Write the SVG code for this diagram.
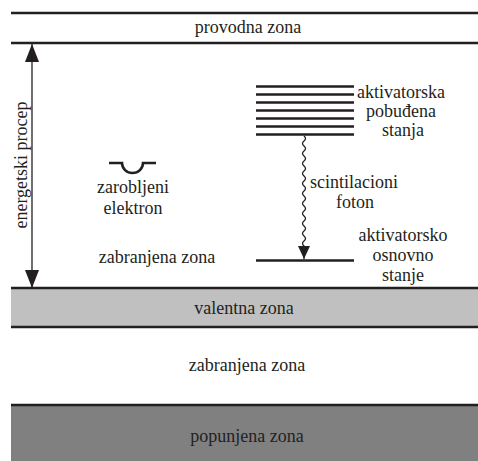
<svg xmlns="http://www.w3.org/2000/svg" width="478" height="461" viewBox="0 0 478 461">
<style>
text{font-family:'Liberation Serif','Times New Roman',serif;font-size:18px;fill:#231f20;text-anchor:middle}
.band{stroke:#231f20;stroke-width:2.5;fill:none}
.lvl{stroke:#231f20;stroke-width:2.6;fill:none}
.thin{stroke:#231f20;stroke-width:1.3;fill:none}
</style>
<defs>
<marker id="ah" markerUnits="userSpaceOnUse" markerWidth="18" markerHeight="14" refX="18" refY="7" orient="auto-start-reverse" viewBox="0 0 18 14">
<path d="M0,0 L18,7 L0,14 z" fill="#231f20"/>
</marker>
<marker id="ah2" markerUnits="userSpaceOnUse" markerWidth="13" markerHeight="12" refX="13" refY="6" orient="auto" viewBox="0 0 13 12">
<path d="M0,0 L13,6 L0,12 z" fill="#231f20"/>
</marker>
</defs>
<rect width="478" height="461" fill="#fff"/>
<g id="provodna">
<line class="band" x1="11" y1="13" x2="478" y2="13"/>
<line class="band" x1="11" y1="43" x2="478" y2="43"/>
<text x="248" y="33">provodna zona</text>
</g>
<g id="valentna">
<rect x="11" y="288" width="467" height="39" fill="#c0c0c0"/>
<line class="band" x1="11" y1="288" x2="478" y2="288"/>
<line class="band" x1="11" y1="327" x2="478" y2="327"/>
<text x="244" y="314">valentna zona</text>
</g>
<g id="zabranjena2">
<text x="247" y="371">zabranjena zona</text>
</g>
<g id="popunjena">
<rect x="11" y="405" width="467" height="56" fill="#808080"/>
<line class="band" x1="11" y1="405" x2="478" y2="405"/>
<text x="247" y="442">popunjena zona</text>
</g>
<g id="zabranjena1">
<text x="157" y="263">zabranjena zona</text>
</g>
<g id="zarobljeni">
<path class="lvl" d="M109,163 H122 A10.5,10 0 0 0 143,163 H156"/>
<text x="133" y="193">zarobljeni</text>
<text x="133" y="214">elektron</text>
</g>
<g id="pobudjena">
<path class="lvl" d="M256,86.5H354M256,94.5H354M256,102.5H354M256,110.5H354M256,118.5H354M256,126.5H354M256,134.5H354"/>
<text x="401" y="98">aktivatorska</text>
<text x="401" y="117">pobuđena</text>
<text x="403" y="136">stanja</text>
</g>
<g id="osnovno">
<line class="lvl" x1="256" y1="260.5" x2="354" y2="260.5"/>
<text x="403" y="241">aktivatorsko</text>
<text x="403" y="261">osnovno</text>
<text x="403" y="281">stanje</text>
</g>
<g id="foton-label">
<text x="354" y="188">scintilacioni</text>
<text x="355" y="208">foton</text>
</g>
<g id="energetski-label">
<text transform="translate(27,165) rotate(-90)">energetski procep</text>
</g>
<g id="connectors">
<line class="thin" x1="32" y1="44" x2="32" y2="288" marker-start="url(#ah)" marker-end="url(#ah)"/>
<path class="thin" d="M304,136 q3,2.5 0,5 t0,5 t0,5 t0,5 t0,5 t0,5 t0,5 t0,5 t0,5 t0,5 t0,5 t0,5 t0,5 t0,5 t0,5 t0,5 t0,5 t0,5 t0,5 t0,5 t0,5 t0,5 L304,259" marker-end="url(#ah2)"/>
</g>
</svg>
